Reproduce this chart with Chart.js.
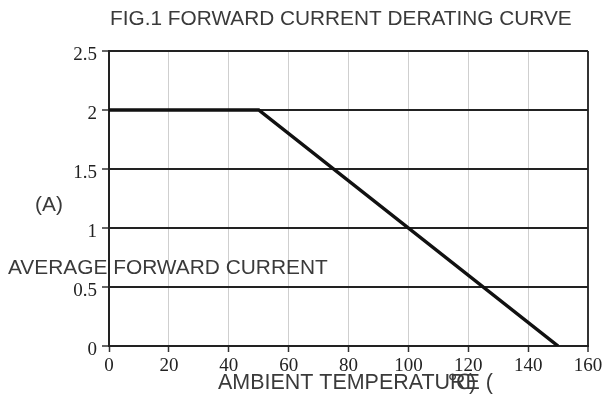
<!DOCTYPE html>
<html>
<head>
<meta charset="utf-8">
<script src="https://cdn.jsdelivr.net/npm/chart.js@4.4.0/dist/chart.umd.min.js"></script>
<style>
  html, body { margin: 0; padding: 0; background: #fff; }
  #wrap { width: 605px; height: 420px; position: relative; }
</style>
</head>
<body>
<div id="wrap"><canvas id="derating"></canvas></div>
<script>
// derating curve points (ambient temp -> average forward current)
const temps = [0, 50, 150];
const currents = [2, 2, 0];
const xTickValues = [0, 20, 40, 60, 80, 100, 120, 140, 160];
const yTickValues = [0, 0.5, 1, 1.5, 2, 2.5];

const titleText = 'FIG.1 FORWARD CURRENT DERATING CURVE';
const yUnitText = '(A)';
const yLabelText = 'AVERAGE FORWARD CURRENT';
const xLabelText = 'AMBIENT TEMPERATURE (';
const xUnitText = '℃)';

// fit a text into a given width by picking the font size
function fitFont(ctx, text, width, family){
	ctx.font = '20px ' + family;
	var w = ctx.measureText(text).width;
	return 20 * width / w;
}

const textPlugin = {
	id: 'textLabels',
	afterDraw(chart){
		var ctx = chart.ctx;
		var fam = '"Liberation Sans", Arial, sans-serif';
		ctx.save();
		ctx.fillStyle = '#3a3a3a';
		ctx.textBaseline = 'middle';
		ctx.textAlign = 'left';

		var s = fitFont(ctx, titleText, 462, fam);
		ctx.font = s + 'px ' + fam;
		ctx.fillText(titleText, 110, 19);

		s = fitFont(ctx, yLabelText, 320, fam);
		ctx.font = s + 'px ' + fam;
		ctx.fillText(yLabelText, 8, 268);
		ctx.fillText(yUnitText, 35, 205);

		s = fitFont(ctx, 'AMBIENT TEMPERATURE', 262, fam);
		ctx.font = s + 'px ' + fam;
		ctx.fillText(xLabelText, 218, 383);
		var w = ctx.measureText('AMBIENT TEMPERATU').width;
		ctx.fillText(xUnitText, 218 + w - 2, 383);
		ctx.restore();
	}
};

const xMax = xTickValues[xTickValues.length - 1];

new Chart(document.getElementById('derating'), {
	type: 'line',
	data: {
		datasets: [{
			data: temps.map(function(t, i){ return {x: t, y: currents[i]}; }),
			borderColor: '#111',
			borderWidth: 3.5,
			pointRadius: 0,
			tension: 0,
			fill: false
		}]
	},
	options: {
		responsive: true,
		maintainAspectRatio: false,
		animation: false,
		layout: { padding: { top: 51, right: 17, left: 0, bottom: 0 } },
		plugins: {
			legend: { display: false },
			tooltip: { enabled: false },
			title: { display: false }
		},
		scales: {
			x: {
				type: 'linear',
				min: 0,
				max: xMax,
				afterBuildTicks: function(scale){
					scale.ticks = xTickValues.map(function(v){ return {value: v}; });
				},
				afterFit: function(scale){
					scale.height = 74;
					scale.paddingLeft = 0;
					scale.paddingRight = 0;
				},
				border: { color: '#222', width: 2 },
				grid: {
					color: function(c){ return c.tick && c.tick.value === xMax ? '#333' : '#cfcfcf'; },
					lineWidth: function(c){ return c.tick && c.tick.value === xMax ? 2 : 1; },
					tickColor: '#333',
					tickLength: 6,
					tickWidth: 1.5
				},
				ticks: {
					color: '#222',
					padding: 3,
					maxRotation: 0,
					font: { family: '"Liberation Serif", serif', size: 19 }
				}
			},
			y: {
				min: 0,
				max: yTickValues[yTickValues.length - 1],
				afterBuildTicks: function(scale){
					scale.ticks = yTickValues.map(function(v){ return {value: v}; });
				},
				afterFit: function(scale){
					scale.width = 109;
					scale.paddingTop = 0;
					scale.paddingBottom = 0;
				},
				border: { color: '#222', width: 2 },
				grid: {
					color: '#222',
					lineWidth: 2,
					tickColor: '#333',
					tickLength: 7,
					tickWidth: 1.5
				},
				ticks: {
					color: '#222',
					padding: 5,
					labelOffset: 4,
					font: { family: '"Liberation Serif", serif', size: 19 },
					callback: function(v){ return String(v); }
				}
			}
		}
	},
	plugins: [textPlugin]
});
</script>
</body>
</html>
